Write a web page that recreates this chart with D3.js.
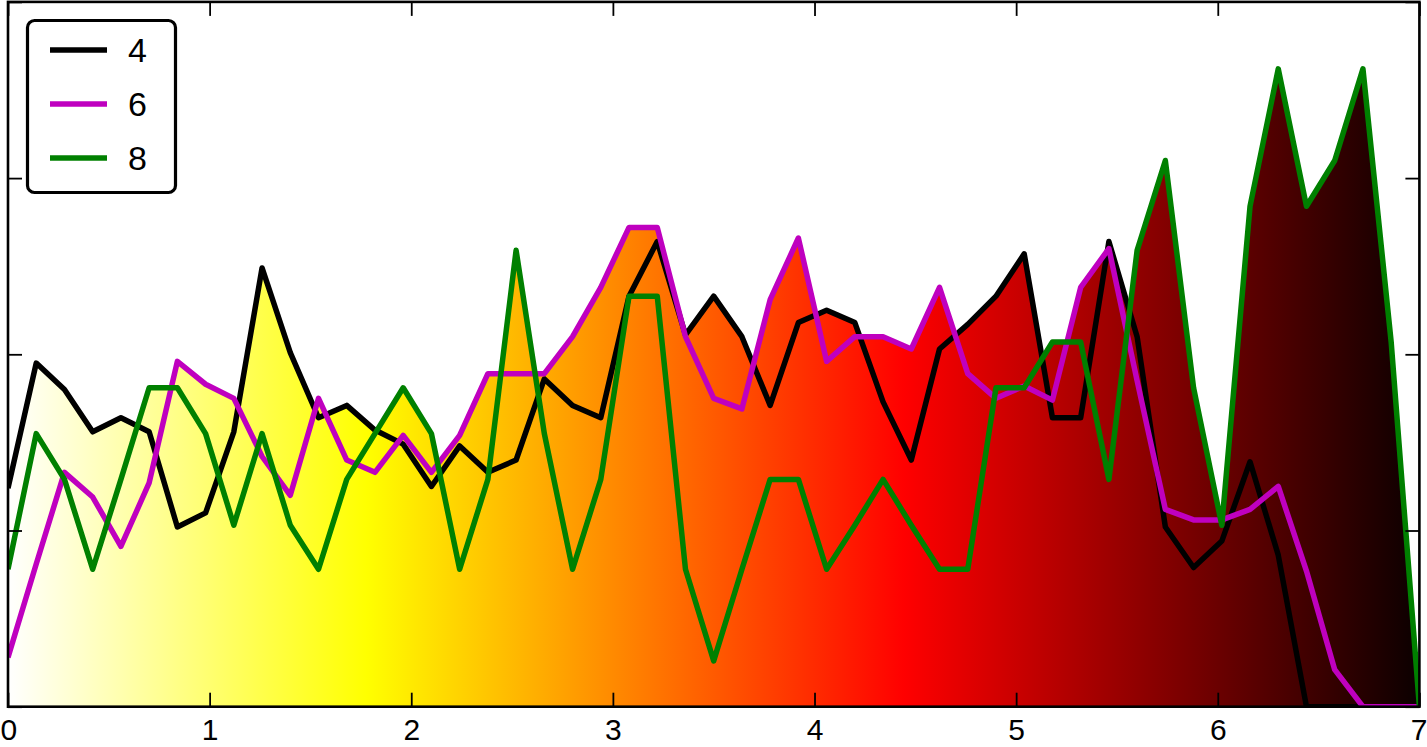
<!DOCTYPE html>
<html>
<head>
<meta charset="utf-8">
<script src="https://cdn.jsdelivr.net/npm/d3@7"></script>
<style>
  html, body { margin: 0; padding: 0; background: #ffffff; }
  svg { display: block; }
  text { font-family: "Liberation Sans", Arial, Helvetica, sans-serif; }
</style>
</head>
<body>
<svg id="chart" width="1427" height="747"></svg>
<script>
// ---- data ----
const xValues = [0,0.14,0.28,0.42,0.56,0.7,0.84,0.98,1.12,1.26,1.4,1.54,1.68,1.82,1.96,2.1,2.24,2.38,2.52,2.66,2.8,2.94,3.08,3.22,3.36,3.5,3.64,3.78,3.92,4.06,4.2,4.34,4.48,4.62,4.76,4.9,5.04,5.18,5.32,5.46,5.6,5.74,5.88,6.02,6.16,6.3,6.44,6.58,6.72,6.86,7];
const series4 = [1.24,1.95,1.80,1.56,1.64,1.56,1.02,1.10,1.56,2.49,2.01,1.64,1.71,1.57,1.49,1.25,1.48,1.33,1.40,1.86,1.71,1.64,2.33,2.64,2.11,2.33,2.10,1.71,2.18,2.25,2.18,1.73,1.40,2.03,2.17,2.33,2.57,1.64,1.64,2.64,2.10,1.02,0.79,0.94,1.39,0.86,0,0,0,0,0];
const series6 = [0.28,0.81,1.33,1.19,0.91,1.27,1.96,1.83,1.75,1.42,1.20,1.75,1.40,1.33,1.54,1.33,1.54,1.89,1.89,1.89,2.10,2.38,2.72,2.72,2.10,1.75,1.69,2.31,2.66,1.96,2.10,2.10,2.03,2.38,1.89,1.75,1.82,1.74,2.38,2.60,1.85,1.12,1.06,1.06,1.12,1.25,0.77,0.21,0,0,0];
const series8 = [0.78,1.55,1.29,0.78,1.29,1.81,1.81,1.55,1.03,1.55,1.03,0.78,1.29,1.55,1.81,1.55,0.78,1.29,2.59,1.55,0.78,1.29,2.33,2.33,0.78,0.26,0.78,1.29,1.29,0.78,1.03,1.29,1.03,0.78,0.78,1.81,1.81,2.07,2.07,1.29,2.59,3.10,1.81,1.03,2.84,3.62,2.84,3.10,3.62,2.07,0];
const seriesNames = ["4", "6", "8"];
const seriesColors = ["#000000", "#bf00bf", "#008000"];
const xTicks = [0,1,2,3,4,5,6,7];
const yTicks = [0,1,2,3,4];
// hot colormap reversed (white -> yellow -> red -> black)
const gradOffsets = [0, 0.253968, 0.634921, 1];
const gradColors = ["#ffffff", "#ffff00", "#ff0000", "#0b0000"];

// ---- layout ----
const W = 1427, H = 747;
const pLeft = 8, pRight = 1419.4, pTop = 1.9, pBottom = 706.7;

const x = d3.scaleLinear().domain([0, 7]).range([pLeft, pRight]);
const y = d3.scaleLinear().domain([0, 4]).range([pBottom, pTop]);

const svg = d3.select("#chart");
const defs = svg.append("defs");

const grad = defs.append("linearGradient")
  .attr("id", "hot")
  .attr("gradientUnits", "userSpaceOnUse")
  .attr("x1", x(0)).attr("x2", x(7))
  .attr("y1", 0).attr("y2", 0);
gradOffsets.forEach((o, i) => {
  grad.append("stop").attr("offset", o).attr("stop-color", gradColors[i]);
});

defs.append("clipPath").attr("id", "plotclip")
  .append("rect")
  .attr("x", pLeft).attr("y", pTop)
  .attr("width", pRight - pLeft).attr("height", pBottom - pTop);

const allSeries = [series4, series6, series8];
const seriesData = allSeries.map(s => s.map((v, i) => ({x: xValues[i], y: v})));

const plot = svg.append("g").attr("clip-path", "url(#plotclip)");

// fill: union of areas under every line, painted with the gradient
const area = d3.area().x(d => x(d.x)).y0(y(0)).y1(d => y(d.y));
plot.selectAll("path.area").data(seriesData).enter().append("path")
  .attr("class", "area")
  .attr("d", area)
  .attr("fill", "url(#hot)")
  .attr("stroke", "none");

const line = d3.line().x(d => x(d.x)).y(d => y(d.y));
plot.selectAll("path.line").data(seriesData).enter().append("path")
  .attr("class", "line")
  .attr("d", line)
  .attr("fill", "none")
  .attr("stroke", (d, i) => seriesColors[i])
  .attr("stroke-width", 5.5)
  .attr("stroke-linejoin", "round")
  .attr("stroke-linecap", "butt");

// ---- axes (inward ticks on all four sides) ----
const tickLen = 14;
const axB = svg.append("g").attr("transform", `translate(0,${pBottom})`)
  .call(d3.axisBottom(x).tickValues(xTicks).tickFormat(d3.format("d"))
    .tickSizeInner(-tickLen).tickSizeOuter(0).tickPadding(12.5));
const axT = svg.append("g").attr("transform", `translate(0,${pTop})`)
  .call(d3.axisTop(x).tickValues(xTicks).tickFormat("")
    .tickSizeInner(-tickLen).tickSizeOuter(0));
const axL = svg.append("g").attr("transform", `translate(${pLeft},0)`)
  .call(d3.axisLeft(y).tickValues(yTicks).tickFormat("")
    .tickSizeInner(-tickLen).tickSizeOuter(0));
const axR = svg.append("g").attr("transform", `translate(${pRight},0)`)
  .call(d3.axisRight(y).tickValues(yTicks).tickFormat("")
    .tickSizeInner(-tickLen).tickSizeOuter(0));

[axB, axT, axL, axR].forEach(g => {
  g.select(".domain").remove();
  g.selectAll(".tick line").attr("stroke", "#000").attr("stroke-width", 1.8);
});
axB.selectAll(".tick text")
  .attr("fill", "#000")
  .style("font-size", "30px")
  .style("font-family", "'Liberation Sans', Arial, Helvetica, sans-serif");
// keep the first and last labels inside the picture
axB.selectAll(".tick text")
  .filter(d => d === xTicks[0])
  .attr("text-anchor", "start").attr("x", -pLeft);
axB.selectAll(".tick text")
  .filter(d => d === xTicks[xTicks.length - 1])
  .attr("text-anchor", "end").attr("x", W - pRight);

// frame
svg.append("rect")
  .attr("x", pLeft).attr("y", pTop)
  .attr("width", pRight - pLeft).attr("height", pBottom - pTop)
  .attr("fill", "none").attr("stroke", "#000").attr("stroke-width", 2.6);

// ---- legend ----
const leg = svg.append("g");
leg.append("rect")
  .attr("x", 27.5).attr("y", 20.5)
  .attr("width", 148).attr("height", 172)
  .attr("rx", 7).attr("ry", 7)
  .attr("fill", "#ffffff").attr("stroke", "#000").attr("stroke-width", 3.2);
const legY = [50, 104, 158];
seriesNames.forEach((name, i) => {
  leg.append("line")
    .attr("x1", 50).attr("x2", 107)
    .attr("y1", legY[i]).attr("y2", legY[i])
    .attr("stroke", seriesColors[i]).attr("stroke-width", 5.5);
  leg.append("text")
    .attr("x", 128).attr("y", legY[i] + 12)
    .attr("fill", "#000")
    .style("font-size", "34px")
    .text(name);
});
</script>
</body>
</html>
